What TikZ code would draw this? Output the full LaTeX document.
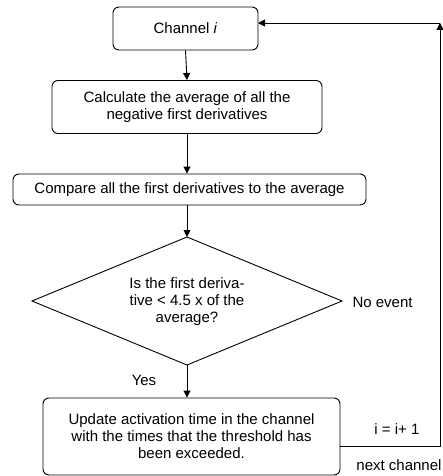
\documentclass[tikz,border=0pt]{standalone}
\usepackage{fontspec}
\setmainfont{Liberation Sans}
\usetikzlibrary{arrows.meta,shapes.geometric}
\begin{document}
\begin{tikzpicture}[x=1pt,y=-1pt,
  every node/.style={font=\fontsize{15}{17}\selectfont},
  box/.style={draw,rounded corners=6pt,line width=0.9pt,inner sep=0pt,align=center},
  arr/.style={-{Triangle[length=7pt,width=7pt]},line width=0.9pt},
  ln/.style={line width=0.9pt}]
\useasboundingbox (0,0) rectangle (443,476);
\node[box,minimum width=145pt,minimum height=43pt] (ch) at (185.5,28.5) {Channel \textit{i}};
\node[box,minimum width=270pt,minimum height=53pt] (calc) at (187,107) {Calculate the average of all the\\negative first derivatives};
\node[box,minimum width=353pt,minimum height=31pt] (cmp) at (189.5,189.5) {Compare all the first derivatives to the average};
\draw[ln] (187,237) -- (342,301) -- (187,365) -- (32,301) -- cycle;
\coordinate (dtop) at (187,237);
\coordinate (dbot) at (187,365);
\coordinate (dright) at (342,301);
\node[align=center] (q) at (187,302) {Is the first deriva-\\tive < 4.5 x of the\\average?};
\node[anchor=west] (no) at (349,302) {No event};
\node (yes) at (144,380) {Yes};
\node[box,minimum width=297pt,minimum height=77pt] (up) at (191.5,436.5) {Update activation time in the channel\\with the times that the threshold has\\been exceeded.};
\node (inc) at (397,429) {i = i+ 1};
\node (next) at (399,465) {next channel};
\coordinate (corner) at (440,446);
\coordinate (top) at (440,23);
\coordinate (chin) at (258,23);
\draw[arr] (ch.south) -- (calc.north);
\draw[arr] (calc.south) -- (cmp.north -| calc.south);
\draw[arr] (cmp.south -| dtop) -- (dtop);
\draw[arr] (dbot) -- (dbot |- up.north);
\draw[arr] (up.east |- corner) -- (corner) -- (top);
\draw[arr] (top) -- (chin);
\end{tikzpicture}
\end{document}
